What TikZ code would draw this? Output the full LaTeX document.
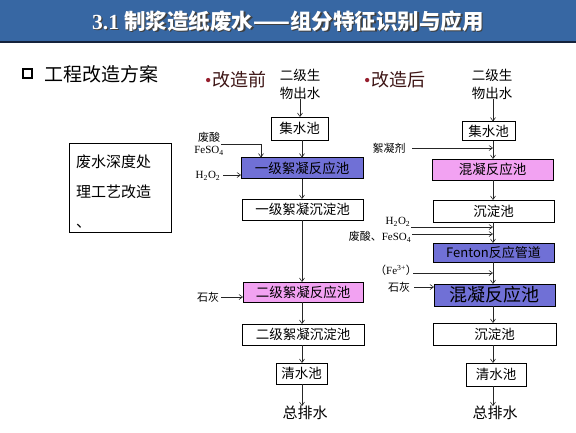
\documentclass[tikz,border=0pt]{standalone}
\usepackage{fontspec}
\setmainfont{Liberation Serif}
\newfontfamily\cjk{Noto Sans CJK SC}
\usetikzlibrary{arrows.meta}
\definecolor{titlebg}{RGB}{55,103,163}
\definecolor{titleline}{RGB}{20,35,60}
\definecolor{boxblue}{RGB}{112,112,214}
\definecolor{boxpink}{RGB}{242,162,242}
\definecolor{headred}{RGB}{62,22,22}
\definecolor{bulletred}{RGB}{150,30,45}
\begin{document}
\begin{tikzpicture}[x=1pt,y=-1pt,
  every node/.style={inner sep=0pt, outer sep=0pt},
  proc/.style={draw=black, line width=0.7pt, font=\cjk\fontsize{13.5}{14}\selectfont, text=black},
  lbl/.style={font=\cjk\fontsize{11}{12}\selectfont, text=black},
  chem/.style={font=\fontsize{11}{12}\selectfont, text=black},
  arr/.style={-{Straight Barb[length=3.5pt,width=5pt]}, line width=0.6pt, black!85},
  ln/.style={line width=0.6pt, black!85},
  head/.style={anchor=west, font=\fontsize{18}{20}\selectfont, text=headred}
]
\useasboundingbox (0,0) rectangle (576,432);
\fill[white] (0,0) rectangle (576,432);
% title bar
\fill[titlebg] (0,0) rectangle (576,41);
\fill[titleline] (0,41) rectangle (576,43);
\node[text=black!75, font=\fontsize{21.5}{22}\selectfont\bfseries] (tshadow) at (289.2,22.2) {3.1 {\cjk 制浆造纸废水——组分特征识别与应用}};
\node[text=white, font=\fontsize{21.5}{22}\selectfont\bfseries] (title) at (288,21) {3.1 {\cjk 制浆造纸废水——组分特征识别与应用}};

% section heading
\node[draw=black, line width=2.2pt, minimum size=8.8pt] (sq) at (27.5,73.5) {};
\node[anchor=west, font=\cjk\fontsize{19}{20}\selectfont] (sect) at (45,74) {工程改造方案};

% left text box
\node[draw=black, line width=0.7pt, minimum width=102pt, minimum height=89pt] (deep) at (120,187.5) {};
\node[anchor=north west, align=left, font=\cjk\fontsize{15}{30}\selectfont] (deeptxt) at (76,155) {废水深度处\\理工艺改造\\、};

% headers
\node[head] (hd1) at (205,80) {\textcolor{bulletred}{•}\hspace{1pt}{\cjk 改造前}};
\node[head] (hd2) at (364,80) {\textcolor{bulletred}{•}\hspace{1pt}{\cjk 改造后}};

% column axes
\coordinate (c1) at (302,0);
\coordinate (c2) at (493,0);

% ---------- left column ----------
\node[align=center, font=\cjk\fontsize{13.5}{18}\selectfont] (src1) at (300,84) {二级生\\物出水};
\node[proc, minimum width=57pt, minimum height=23pt] (jsc1) at (299.5,128.5) {集水池};
\node[proc, fill=boxblue, minimum width=122pt, minimum height=21pt] (r1) at (302,168) {一级絮凝反应池};
\node[proc, minimum width=121pt, minimum height=21pt] (s1) at (302.5,209.5) {一级絮凝沉淀池};
\node[proc, fill=boxpink, minimum width=120pt, minimum height=20pt] (r2) at (303,292) {二级絮凝反应池};
\node[proc, minimum width=122pt, minimum height=21pt] (s2) at (303,334.5) {二级絮凝沉淀池};
\node[proc, minimum width=51pt, minimum height=21pt] (q1) at (301.5,373.5) {清水池};
\node[font=\cjk\fontsize{15}{16}\selectfont] (out1) at (305,413) {总排水};

\draw[arr] (src1.south) -- (src1.south |- jsc1.north);
\draw[arr] (c1 |- jsc1.south) -- (c1 |- r1.north);
\draw[arr] (c1 |- r1.south) -- (c1 |- s1.north);
\draw[arr] (c1 |- s1.south) -- (c1 |- r2.north);
\draw[arr] (c1 |- r2.south) -- (c1 |- s2.north);
\draw[arr] (c1 |- s2.south) -- (c1 |- q1.north);
\draw[arr] (c1 |- q1.south) -- (c1 |- out1.north);

% left inputs
\node[lbl] (fs1) at (209,137) {废酸};
\node[chem] (fs2) at (209,151) {FeSO\textsubscript{4}};
\coordinate (fa) at (221,144);
\coordinate (fb) at (261,144);
\draw[ln] (fa) -- (fb);
\draw[arr] (fb) -- (fb |- r1.north);
\node[chem] (h2l) at (208,176) {H\textsubscript{2}O\textsubscript{2}};
\coordinate (h2a) at (223,175);
\draw[arr] (h2a) -- (h2a -| r1.west);
\node[lbl] (lime1) at (208,297) {石灰};
\coordinate (lma) at (221,297);
\draw[arr] (lma) -- (lma -| r2.west);

% ---------- right column ----------
\node[align=center, font=\cjk\fontsize{13.5}{18}\selectfont] (src2) at (492,84) {二级生\\物出水};
\node[proc, minimum width=53pt, minimum height=19pt] (jsc2) at (488.5,131) {集水池};
\node[proc, fill=boxpink, minimum width=121pt, minimum height=21pt] (hn1) at (492.5,169.5) {混凝反应池};
\node[proc, minimum width=121pt, minimum height=22pt] (cd1) at (493.5,211) {沉淀池};
\node[proc, fill=boxblue, minimum width=121pt, minimum height=19pt, font=\cjk\fontsize{13}{14}\selectfont] (fen) at (493.5,252.5) {Fenton反应管道};
\node[proc, fill=boxblue, minimum width=121pt, minimum height=22pt, font=\cjk\fontsize{18}{18}\selectfont] (hn2) at (494.5,295) {混凝反应池};
\node[proc, minimum width=123pt, minimum height=22pt] (cd2) at (494.5,334) {沉淀池};
\node[proc, minimum width=60pt, minimum height=23pt] (q2) at (496,374.5) {清水池};
\node[font=\cjk\fontsize{15}{16}\selectfont] (out2) at (495,413) {总排水};

\draw[arr] (c2 |- src2.south) -- (c2 |- jsc2.north);
\draw[arr] (c2 |- jsc2.south) -- (c2 |- hn1.north);
\draw[arr] (c2 |- hn1.south) -- (c2 |- cd1.north);
\draw[arr] (c2 |- cd1.south) -- (c2 |- fen.north);
\draw[arr] (c2 |- fen.south) -- (c2 |- hn2.north);
\draw[arr] (c2 |- hn2.south) -- (c2 |- cd2.north);
\draw[arr] (c2 |- cd2.south) -- (c2 |- q2.north);
\draw[arr] (c2 |- q2.south) -- (c2 |- out2.north);

% right inputs
\node[lbl] (xnj) at (389,148) {絮凝剂};
\coordinate (xa) at (412,148);
\draw[arr] (xa) -- (c2 |- xa);
\node[chem] (h2r) at (398,222) {H\textsubscript{2}O\textsubscript{2}};
\coordinate (h2b) at (411,227);
\draw[arr] (h2b) -- (c2 |- h2b);
\node[lbl] (fsr) at (380,237) {废酸、{\rmfamily FeSO\textsubscript{4}}};
\coordinate (fsb) at (412,234);
\draw[arr] (fsb) -- (c2 |- fsb);
\node[chem] (fe3) at (396,270) {{\cjk （}Fe\textsuperscript{3+}{\cjk ）}};
\coordinate (feb) at (413,273);
\draw[arr] (feb) -- (c2 |- feb);
\node[lbl] (lime2) at (399,287) {石灰};
\coordinate (lmb) at (414,287);
\draw[arr] (lmb) -- (lmb -| hn2.west);
\end{tikzpicture}
\end{document}
